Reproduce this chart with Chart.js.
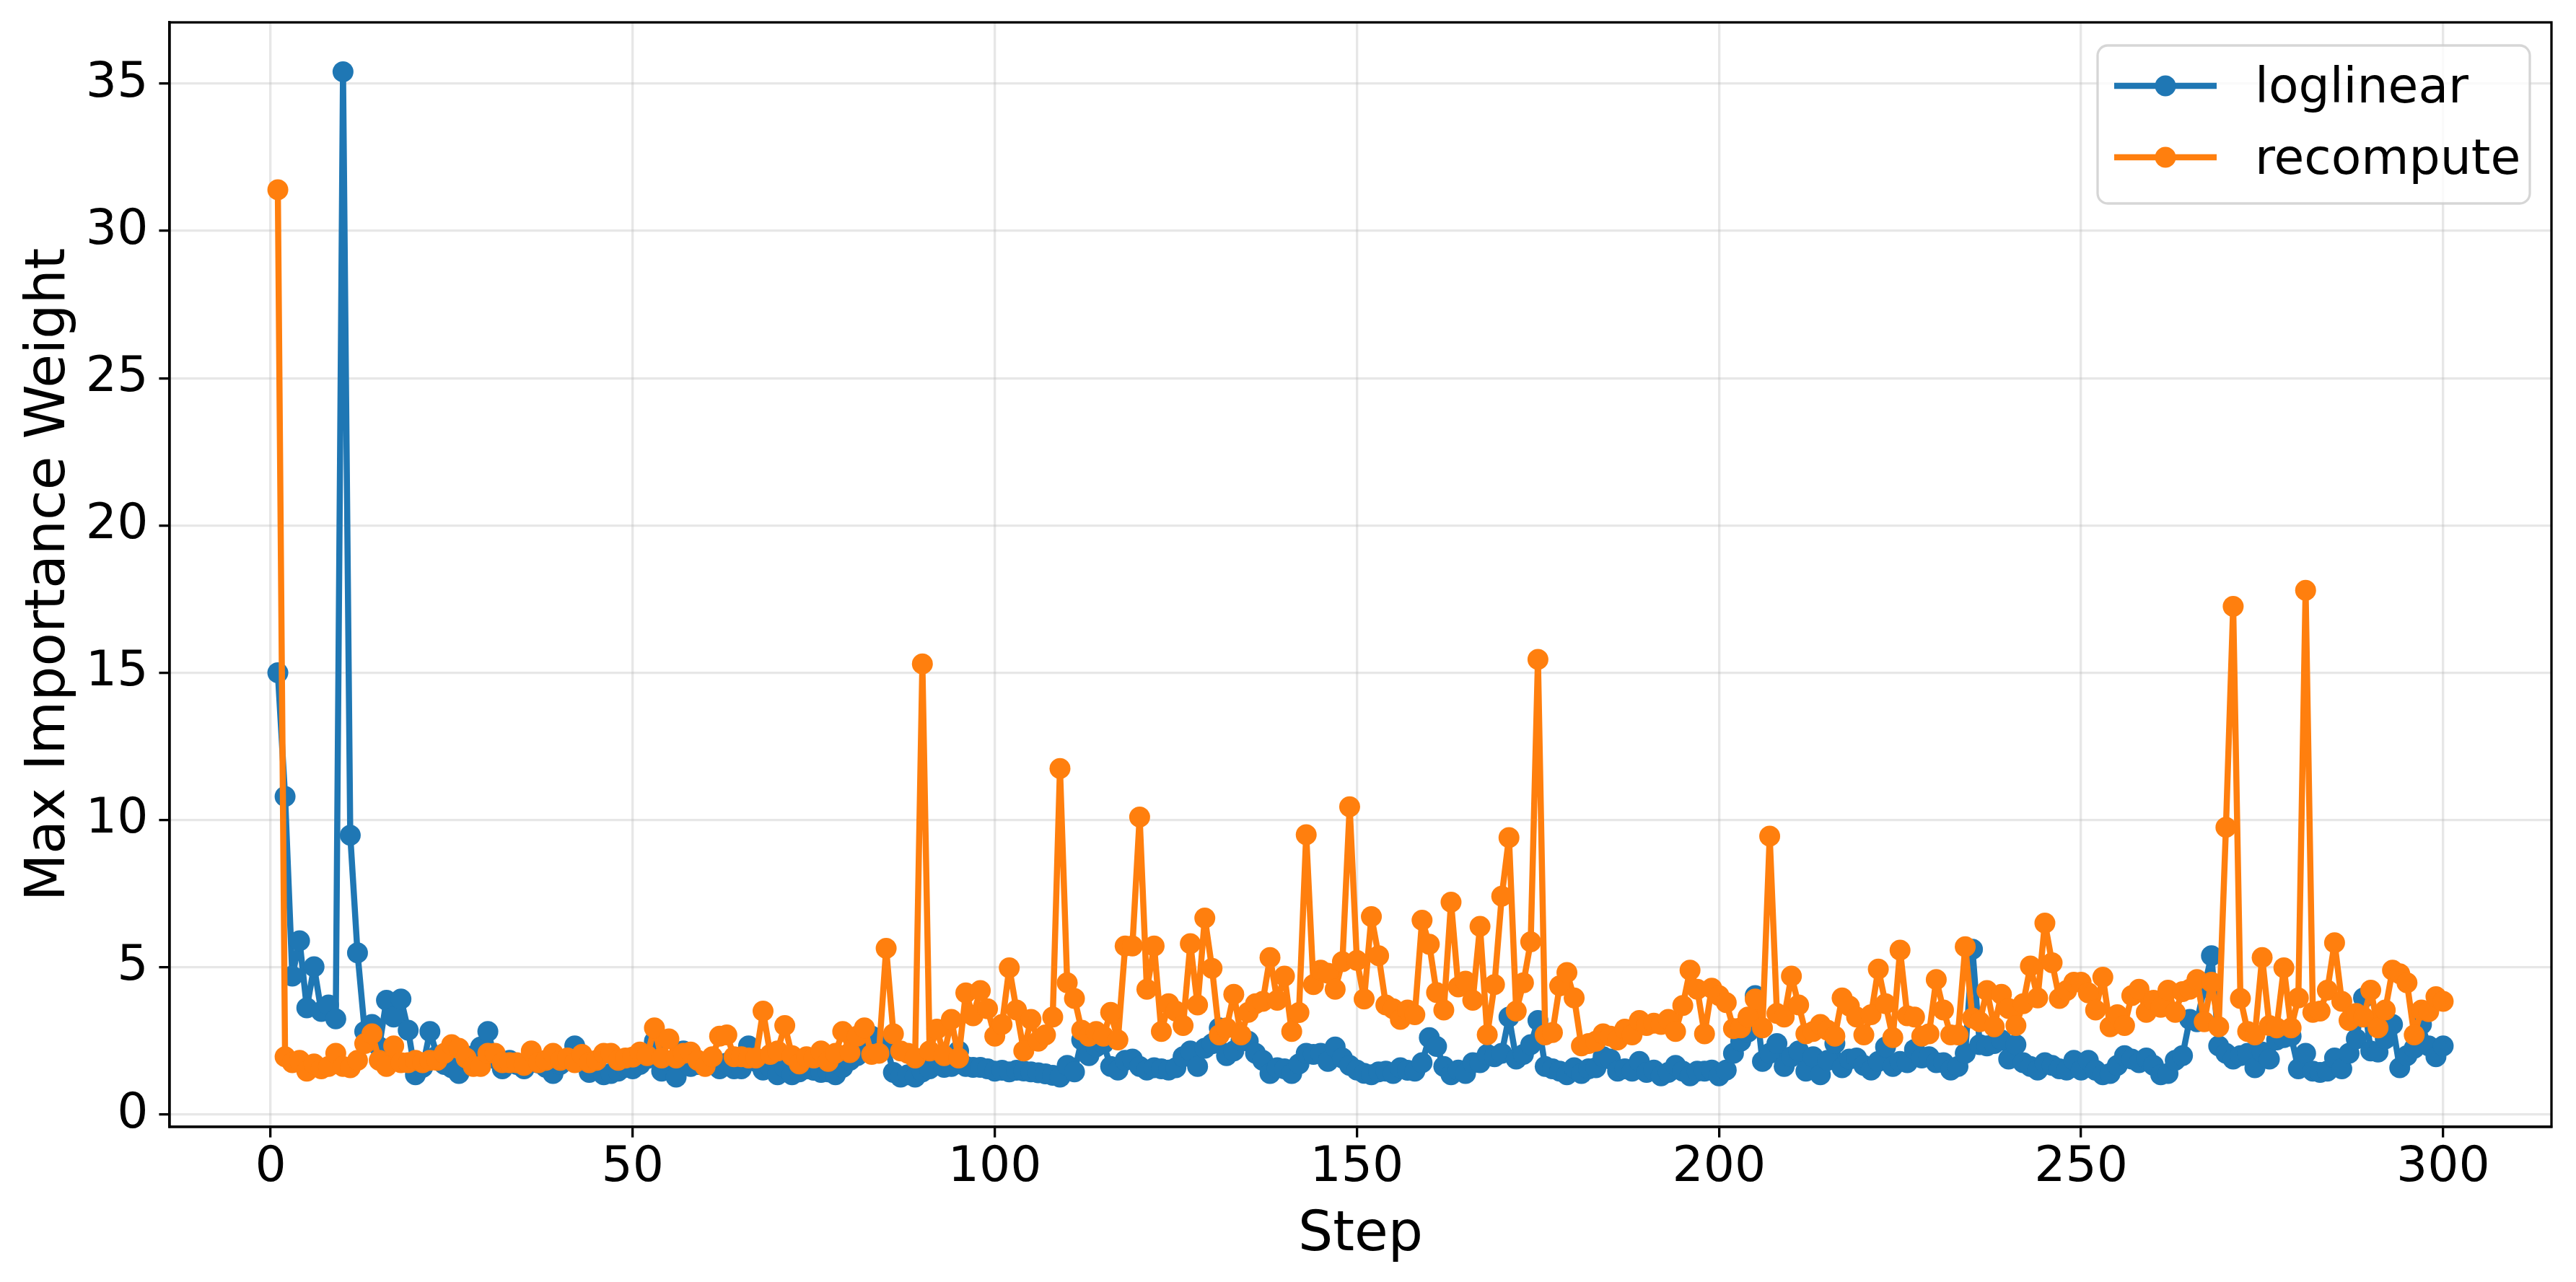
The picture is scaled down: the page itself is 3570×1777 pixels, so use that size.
<!DOCTYPE html>
<html>
<head>
<meta charset="utf-8">
<title>Max Importance Weight</title>
<script src="https://cdn.jsdelivr.net/npm/chart.js@4.4.1/dist/chart.umd.min.js"></script>
<style>
  html, body { margin: 0; padding: 0; background: #ffffff; }
  canvas { display: block; }
</style>
</head>
<body>
<canvas id="grafico" width="3570" height="1777"></canvas>
<script>
// pasos 1..300
const steps = Array.from({ length: 300 }, (_, i) => i + 1);

const loglinear = [
  15.0, 10.8, 4.7, 5.9, 3.62, 5.02, 3.5, 3.72, 3.25, 35.4,
  9.48, 5.49, 2.82, 3.06, 2.3, 3.88, 3.31, 3.92, 2.86, 1.35,
  1.6, 2.82, 2.0, 1.7, 1.59, 1.39, 1.8, 2.0, 2.29, 2.82,
  1.9, 1.55, 1.84, 1.7, 1.55, 1.8, 1.75, 1.6, 1.39, 1.7,
  1.9, 2.33, 1.8, 1.43, 1.6, 1.35, 1.39, 1.47, 1.6, 1.55,
  1.7, 1.9, 2.49, 1.47, 1.8, 1.27, 2.16, 1.63, 1.7, 1.75,
  1.7, 1.55, 1.75, 1.55, 1.55, 2.33, 1.8, 1.51, 1.6, 1.35,
  1.6, 1.35, 1.45, 1.55, 1.5, 1.43, 1.45, 1.35, 1.6, 1.84,
  2.0, 2.3, 2.66, 2.2, 2.4, 1.43, 1.27, 1.35, 1.27, 1.45,
  1.55, 1.9, 1.6, 1.63, 2.16, 1.63, 1.6, 1.6, 1.55, 1.47,
  1.5, 1.45, 1.5, 1.48, 1.45, 1.42, 1.38, 1.33, 1.27, 1.67,
  1.45, 2.53, 2.0, 2.3, 2.41, 1.63, 1.51, 1.84, 1.88, 1.63,
  1.51, 1.59, 1.55, 1.51, 1.59, 1.96, 2.16, 1.63, 2.25, 2.4,
  2.94, 2.0, 2.16, 2.5, 2.49, 2.08, 1.84, 1.39, 1.59, 1.55,
  1.39, 1.72, 2.08, 2.04, 2.08, 1.8, 2.29, 1.92, 1.67, 1.51,
  1.4, 1.35, 1.45, 1.47, 1.39, 1.59, 1.5, 1.47, 1.76, 2.61,
  2.31, 1.63, 1.35, 1.51, 1.39, 1.76, 1.76, 2.04, 1.96, 2.08,
  3.31, 1.88, 2.04, 2.37, 3.19, 1.63, 1.55, 1.47, 1.35, 1.59,
  1.39, 1.55, 1.59, 1.96, 1.88, 1.47, 1.55, 1.47, 1.8, 1.43,
  1.51, 1.31, 1.43, 1.67, 1.47, 1.31, 1.47, 1.47, 1.51, 1.31,
  1.51, 2.08, 2.49, 2.8, 4.04, 1.8, 2.08, 2.41, 1.63, 1.96,
  2.16, 1.47, 1.96, 1.35, 1.84, 2.41, 1.59, 1.88, 1.92, 1.67,
  1.51, 1.8, 2.29, 1.63, 1.8, 1.76, 2.21, 1.92, 1.96, 1.76,
  1.76, 1.51, 1.63, 2.08, 5.61, 2.37, 2.33, 2.41, 2.53, 1.88,
  2.37, 1.76, 1.63, 1.51, 1.76, 1.67, 1.55, 1.51, 1.84, 1.51,
  1.84, 1.5, 1.35, 1.39, 1.67, 2.0, 1.88, 1.76, 1.92, 1.67,
  1.35, 1.39, 1.84, 2.0, 3.23, 3.15, 4.3, 5.39, 2.33, 2.08,
  1.88, 2.0, 2.08, 1.59, 2.12, 1.88, 2.53, 2.61, 2.66, 1.55,
  2.08, 1.47, 1.43, 1.47, 1.92, 1.55, 2.08, 2.57, 3.96, 2.16,
  2.12, 2.57, 3.06, 1.59, 2.0, 2.25, 3.06, 2.33, 1.96, 2.33
];

const recompute = [
  31.4, 1.96, 1.76, 1.84, 1.47, 1.72, 1.55, 1.63, 2.08, 1.63,
  1.59, 1.84, 2.41, 2.74, 1.84, 1.63, 2.33, 1.76, 1.76, 1.84,
  1.76, 1.84, 1.84, 2.08, 2.37, 2.25, 1.92, 1.63, 1.63, 2.08,
  2.08, 1.76, 1.76, 1.76, 1.67, 2.16, 1.76, 1.84, 2.08, 1.84,
  1.92, 1.76, 2.04, 1.76, 1.84, 2.08, 2.08, 1.84, 1.92, 1.95,
  2.12, 2.0, 2.94, 1.92, 2.57, 1.92, 2.08, 2.12, 1.84, 1.63,
  1.96, 2.66, 2.7, 1.96, 1.96, 1.92, 1.92, 3.51, 2.04, 2.16,
  3.02, 2.0, 1.72, 1.96, 1.92, 2.16, 1.8, 2.08, 2.82, 2.1,
  2.66, 2.94, 2.04, 2.08, 5.64, 2.74, 2.16, 2.08, 1.92, 15.3,
  2.16, 2.9, 2.0, 3.23, 1.92, 4.13, 3.35, 4.21, 3.59, 2.66,
  3.06, 4.98, 3.55, 2.16, 3.23, 2.49, 2.7, 3.31, 11.75, 4.47,
  3.94, 2.86, 2.66, 2.82, 2.66, 3.47, 2.53, 5.72, 5.72, 10.1,
  4.25, 5.72, 2.82, 3.76, 3.51, 3.02, 5.8, 3.72, 6.67, 4.96,
  2.7, 2.94, 4.08, 2.7, 3.47, 3.76, 3.84, 5.33, 3.88, 4.7,
  2.82, 3.46, 9.5, 4.41, 4.9, 4.8, 4.25, 5.19, 10.45, 5.23,
  3.92, 6.72, 5.39, 3.72, 3.59, 3.23, 3.55, 3.39, 6.6, 5.78,
  4.14, 3.55, 7.21, 4.33, 4.53, 3.88, 6.39, 2.71, 4.41, 7.41,
  9.4, 3.51, 4.47, 5.86, 15.45, 2.7, 2.78, 4.37, 4.82, 3.96,
  2.33, 2.41, 2.49, 2.74, 2.66, 2.53, 2.9, 2.7, 3.19, 3.02,
  3.1, 3.06, 3.23, 2.82, 3.7, 4.9, 4.25, 2.74, 4.29, 4.04,
  3.8, 2.92, 2.94, 3.31, 3.92, 2.94, 9.45, 3.43, 3.31, 4.7,
  3.72, 2.74, 2.82, 3.06, 2.86, 2.66, 3.96, 3.68, 3.31, 2.7,
  3.39, 4.94, 3.76, 2.61, 5.58, 3.35, 3.31, 2.66, 2.74, 4.58,
  3.55, 2.7, 2.7, 5.7, 3.27, 3.15, 4.21, 2.98, 4.08, 3.6,
  3.02, 3.76, 5.04, 3.96, 6.5, 5.15, 3.94, 4.21, 4.49, 4.49,
  4.13, 3.55, 4.66, 2.98, 3.39, 3.02, 4.04, 4.25, 3.47, 3.88,
  3.64, 4.22, 3.47, 4.17, 4.25, 4.58, 3.15, 4.49, 2.98, 9.75,
  17.25, 3.94, 2.82, 2.7, 5.33, 3.02, 2.94, 4.98, 2.94, 3.96,
  17.8, 3.47, 3.51, 4.22, 5.83, 3.84, 3.19, 3.43, 3.31, 4.22,
  2.94, 3.55, 4.9, 4.78, 4.47, 2.7, 3.55, 3.49, 4.0, 3.84
];

const xTicks = [0, 50, 100, 150, 200, 250, 300];
const yTicks = [0, 5, 10, 15, 20, 25, 30, 35];

const azul = '#1f77b4';
const naranja = '#ff7f0e';
const fuente = "'DejaVu Sans'";

Chart.defaults.font.family = fuente;
Chart.defaults.color = '#000000';

// marco completo del area de datos
const marco = {
  id: 'marco',
  afterDatasetsDraw(chart) {
    const { ctx, chartArea: a } = chart;
    ctx.save();
    ctx.strokeStyle = '#000000';
    ctx.lineWidth = 3.3;
    ctx.strokeRect(a.left, a.top, a.right - a.left, a.bottom - a.top);
    ctx.restore();
  }
};

// leyenda con caja redondeada, arriba a la derecha
const leyenda = {
  id: 'leyenda',
  afterDraw(chart) {
    const ctx = chart.ctx;
    const x0 = 2907, y0 = 63, w = 599, h = 219, r = 14;
    ctx.save();
    ctx.beginPath();
    ctx.roundRect(x0, y0, w, h, r);
    ctx.fillStyle = 'rgba(255,255,255,0.8)';
    ctx.fill();
    ctx.strokeStyle = 'rgba(204,204,204,0.8)';
    ctx.lineWidth = 3.3;
    ctx.stroke();
    const filas = [119, 218];
    chart.data.datasets.forEach((ds, i) => {
      const y = filas[i];
      ctx.strokeStyle = ds.borderColor;
      ctx.lineWidth = 8.5;
      ctx.beginPath();
      ctx.moveTo(2930, y);
      ctx.lineTo(3072, y);
      ctx.stroke();
      ctx.fillStyle = ds.pointBackgroundColor;
      ctx.beginPath();
      ctx.arc(3001, y, 14.5, 0, Math.PI * 2);
      ctx.fill();
      ctx.fillStyle = '#000000';
      ctx.font = "68px " + fuente;
      ctx.textBaseline = 'alphabetic';
      ctx.textAlign = 'left';
      ctx.fillText(ds.label, 3125, y + 23);
    });
    ctx.restore();
  }
};

// sin relleno extra de las etiquetas, el area queda fija
function sinRelleno(s) {
  s.paddingTop = 0;
  s.paddingBottom = 0;
  s.paddingLeft = 0;
  s.paddingRight = 0;
}

const ejeComun = {
  grid: {
    color: 'rgba(176,176,176,0.3)',
    lineWidth: 3.3,
    tickColor: '#000000',
    tickWidth: 3.3,
    tickLength: 14.6
  },
  border: { display: true, color: '#000000', width: 3.3 },
};

const ctx = document.getElementById('grafico').getContext('2d');
const chart = new Chart(ctx, {
  type: 'line',
  data: {
    datasets: [{
      label: 'loglinear',
      data: steps.map((s, i) => ({ x: s, y: loglinear[i] })),
      borderColor: azul,
      backgroundColor: azul,
      pointBackgroundColor: azul,
      pointBorderWidth: 0,
      pointRadius: 14.5,
      borderWidth: 8.5,
      borderJoinStyle: 'round',
      tension: 0,
      order: 2
    }, {
      label: 'recompute',
      data: steps.map((s, i) => ({ x: s, y: recompute[i] })),
      borderColor: naranja,
      backgroundColor: naranja,
      pointBackgroundColor: naranja,
      pointBorderWidth: 0,
      pointRadius: 14.5,
      borderWidth: 8.5,
      borderJoinStyle: 'round',
      tension: 0,
      order: 1
    }]
  },
  options: {
    responsive: false,
    animation: false,
    devicePixelRatio: 1,
    layout: { padding: { top: 31, right: 34, bottom: 0, left: 0 } },
    plugins: {
      legend: { display: false },
      tooltip: { enabled: false }
    },
    scales: {
      x: {
        type: 'linear',
        min: -13.95,
        max: 314.95,
        ...ejeComun,
        afterBuildTicks: (s) => { s.ticks = xTicks.map(v => ({ value: v })); },
        afterFit: (s) => { s.height = 215; sinRelleno(s); },
        ticks: { font: { size: 68 }, color: '#000000', padding: 2, maxRotation: 0 },
        title: {
          display: true,
          text: 'Step',
          font: { size: 76 },
          color: '#000000',
          padding: { top: 0, bottom: 18 }
        }
      },
      y: {
        type: 'linear',
        min: -0.42,
        max: 37.08,
        ...ejeComun,
        afterBuildTicks: (s) => { s.ticks = yTicks.map(v => ({ value: v })); },
        afterFit: (s) => { s.width = 235; sinRelleno(s); },
        ticks: { font: { size: 68 }, color: '#000000', padding: 15 },
        title: {
          display: true,
          text: 'Max Importance Weight',
          font: { size: 76 },
          color: '#000000',
          padding: { top: 24, bottom: 0 }
        }
      }
    }
  },
  plugins: [marco, leyenda]
});
</script>
</body>
</html>
